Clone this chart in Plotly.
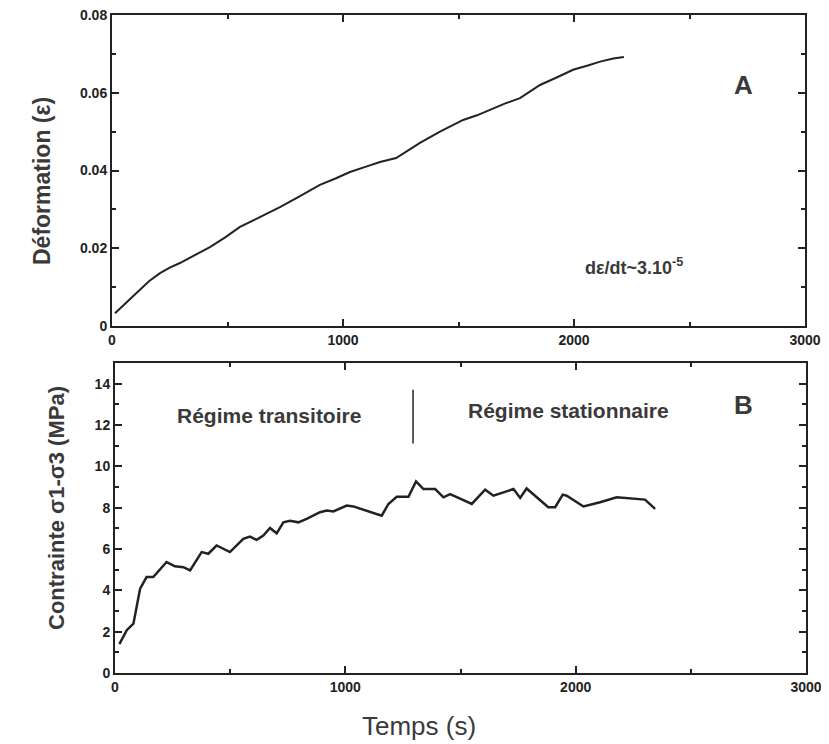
import plotly.graph_objects as go

# Panel A: strain vs time
t_strain = [13, 60, 121, 160, 208, 250, 294, 350, 424, 490, 554, 640, 727, 810, 900,
            970, 1030, 1100, 1160, 1230, 1303, 1333, 1420, 1520, 1580, 1636, 1700,
            1766, 1853, 1920, 1996, 2060, 2113, 2170, 2216]
strain = [0.0033, 0.0060, 0.0093, 0.0115, 0.0136, 0.0150, 0.0162, 0.0180, 0.0203,
          0.0228, 0.0255, 0.0280, 0.0306, 0.0333, 0.0363, 0.0380, 0.0396, 0.0410,
          0.0422, 0.0432, 0.0460, 0.0471, 0.0500, 0.0530, 0.0542, 0.0556, 0.0572,
          0.0586, 0.0620, 0.0638, 0.0659, 0.0670, 0.0680, 0.0688, 0.0692]

# Panel B: stress vs time
t_stress = [19, 51, 80, 109, 137, 166, 224, 260, 297, 326, 376, 405, 441, 499, 557,
            586, 615, 644, 673, 702, 731, 760, 796, 832, 890, 919, 948, 1006, 1035,
            1158, 1187, 1223, 1274, 1307, 1339, 1390, 1426, 1455, 1549, 1607, 1643,
            1730, 1759, 1787, 1881, 1911, 1944, 1961, 2034, 2106, 2178, 2301, 2345]
stress = [1.40, 2.07, 2.39, 4.08, 4.64, 4.64, 5.37, 5.16, 5.12, 4.96, 5.85, 5.77,
          6.17, 5.85, 6.49, 6.60, 6.44, 6.65, 7.02, 6.76, 7.29, 7.37, 7.29, 7.46,
          7.78, 7.86, 7.82, 8.10, 8.06, 7.61, 8.18, 8.53, 8.53, 9.27, 8.90, 8.90,
          8.50, 8.66, 8.18, 8.87, 8.58, 8.90, 8.47, 8.93, 8.02, 8.02, 8.63, 8.58,
          8.06, 8.26, 8.50, 8.39, 7.94]

# Regime separator
sep_t = [1294, 1294]
sep_y = [11.1, 13.7]

x_ticks = [0, 1000, 2000, 3000]
x_labels = ["0", "1000", "2000", "3000"]
x_minor = [500, 1500, 2500]
yA_ticks = [0, 0.02, 0.04, 0.06, 0.08]
yA_labels = ["0", "0.02", "0.04", "0.06", "0.08"]
yA_minor = [0.01, 0.03, 0.05, 0.07]
yB_ticks = [0, 2, 4, 6, 8, 10, 12, 14]
yB_labels = ["0", "2", "4", "6", "8", "10", "12", "14"]
yB_minor = [1, 3, 5, 7, 9, 11, 13]

W, H = 821, 736   # page body has 8px margin
def fx(px):
    return (px - 8) / W
def fy(py):
    return 1 - (py - 8) / H

INK = "#222222"
TXT = "#3a3a3a"
TICKFONT = dict(family="Liberation Sans, Arial", size=14, color=INK, weight="bold")

fig = go.Figure()
fig.add_trace(go.Scatter(x=t_strain, y=strain, mode="lines",
                         line=dict(color=INK, width=2), xaxis="x", yaxis="y",
                         showlegend=False))
fig.add_trace(go.Scatter(x=t_stress, y=stress, mode="lines",
                         line=dict(color=INK, width=2.5), xaxis="x2", yaxis="y2",
                         showlegend=False))
fig.add_trace(go.Scatter(x=sep_t, y=sep_y, mode="lines",
                         line=dict(color=INK, width=1.5), xaxis="x2", yaxis="y2",
                         showlegend=False))

def ax(**kw):
    d = dict(showline=True, linecolor=INK, linewidth=2, mirror="allticks",
             ticks="inside", ticklen=7, tickwidth=2, tickcolor=INK,
             showgrid=False, zeroline=False, tickfont=TICKFONT,
             automargin=False, ticklabeloverflow="allow", layer="above traces")
    d.update(kw)
    return d

def minor(vals):
    return dict(tickvals=vals, ticks="inside", ticklen=4, tickwidth=1.5,
                tickcolor=INK, showgrid=False)

fig.update_layout(
    width=W, height=H,
    margin=dict(l=0, r=0, t=0, b=0),
    paper_bgcolor="white", plot_bgcolor="white",
    xaxis=ax(domain=[fx(112), fx(805)], range=[0, 3000], anchor="y",
             tickvals=x_ticks, ticktext=x_labels, minor=minor(x_minor)),
    yaxis=ax(domain=[fy(326), fy(15)], range=[0, 0.08], anchor="x",
             tickvals=yA_ticks, ticktext=yA_labels, minor=minor(yA_minor)),
    xaxis2=ax(domain=[fx(115), fx(806)], range=[0, 3000], anchor="y2",
              tickvals=x_ticks, ticktext=x_labels, minor=minor(x_minor)),
    yaxis2=ax(domain=[fy(673), fy(363)], range=[0, 15], anchor="x2",
              tickvals=yB_ticks, ticktext=yB_labels, minor=minor(yB_minor)),
)

BOLD = "Liberation Sans, Arial"
ann = [
    dict(text="<b>Déformation (ε)</b>", x=42, y=181, textangle=-90,
         font=dict(family=BOLD, size=23, color=TXT)),
    dict(text="<b>Contrainte σ1-σ3 (MPa)</b>", x=56, y=508, textangle=-90,
         font=dict(family=BOLD, size=22, color=TXT)),
    dict(text="Temps (s)", x=419, y=726,
         font=dict(family=BOLD, size=26, color=TXT)),
    dict(text="<b>A</b>", x=743, y=85, font=dict(family=BOLD, size=26, color=TXT)),
    dict(text="<b>B</b>", x=743, y=405, font=dict(family=BOLD, size=26, color=TXT)),
    dict(text="<b>dε/dt~3.10<sup>-5</sup></b>", x=634, y=266,
         font=dict(family=BOLD, size=18, color=TXT)),
    dict(text="<b>Régime transitoire</b>", x=269, y=415,
         font=dict(family=BOLD, size=21, color=TXT)),
    dict(text="<b>Régime stationnaire</b>", x=568, y=410,
         font=dict(family=BOLD, size=21, color=TXT)),
]
for a in ann:
    px, py = a.pop("x"), a.pop("y")
    fig.add_annotation(xref="paper", yref="paper", x=fx(px), y=fy(py),
                       xanchor="center", yanchor="middle", showarrow=False, **a)

fig.write_html("out.html")
